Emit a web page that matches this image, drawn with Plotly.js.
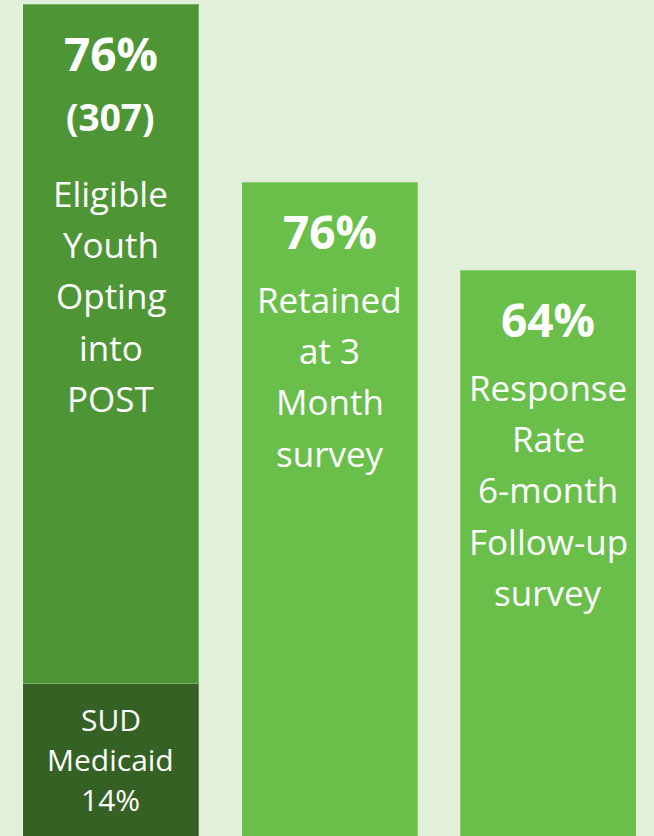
<!DOCTYPE html>
<html>
<head>
<meta charset="utf-8">
<script src="https://cdn.plot.ly/plotly-3.0.1.min.js"></script>
<style>
  html, body { margin: 0; padding: 0; background: #e2f0d9; }
  #chart { width: 654px; height: 836px; }
</style>
</head>
<body>
<div id="chart"></div>
<script>
// Bar heights are relative (tallest bar = 100)
const categories = ['Opting in', 'Retained 3 month', 'Response 6 month'];
const sudHeights = [18.3, null, null];
const mainHeights = [81.7, 78.6, 68.0];
const headlines = ['76%', '76%', '64%'];
const subHeadlines = ['(307)', '', ''];
const descriptions = [
    ['Eligible', 'Youth', 'Opting', 'into', 'POST'],
    ['Retained', 'at 3', 'Month', 'survey'],
    ['Response', 'Rate', '6-month', 'Follow-up', 'survey']
];
const sudLines = ['SUD', 'Medicaid', '14%'];

const barColors = ['#4e9535', '#6abf4b', '#6abf4b'];
const sudColor = '#356224';
const bgColor = '#e2f0d9';
const fontFamily = '"Open Sans", "Noto Sans", sans-serif';

const traces = [
    {
        x: categories,
        y: sudHeights,
        type: 'bar',
        marker: { color: sudColor, line: { color: 'rgba(255,255,255,0.25)', width: 1 } },
        hoverinfo: 'skip'
    },
    {
        x: categories,
        y: mainHeights,
        type: 'bar',
        marker: { color: barColors, line: { color: 'rgba(255,255,255,0.25)', width: 1 } },
        hoverinfo: 'skip'
    }
];

// text blocks hang from the top of each bar
const annotations = [];
const white = '#ffffff';
categories.forEach((cat, i) => {
    const top = (sudHeights[i] || 0) + mainHeights[i];
    annotations.push({
        x: cat, y: top, xref: 'x', yref: 'y',
        text: '<b>' + headlines[i] + '</b>',
        showarrow: false, yanchor: 'middle', yshift: -49,
        font: { family: fontFamily, size: 46, color: white }
    });
    let start = 117;
    if (subHeadlines[i]) {
        annotations.push({
            x: cat, y: top, xref: 'x', yref: 'y',
            text: '<b>' + subHeadlines[i] + '</b>',
            showarrow: false, yanchor: 'middle', yshift: -112,
            font: { family: fontFamily, size: 37, color: white }
        });
        start = 189;
    }
    descriptions[i].forEach((line, k) => {
        annotations.push({
            x: cat, y: top, xref: 'x', yref: 'y',
            text: line,
            showarrow: false, yanchor: 'middle', yshift: -(start + k * 51.3),
            font: { family: fontFamily, size: 35, color: white }
        });
    });
});

// labels inside the SUD Medicaid segment
sudLines.forEach((line, k) => {
    annotations.push({
        x: categories[0], y: sudHeights[0], xref: 'x', yref: 'y',
        text: line,
        showarrow: false, yanchor: 'middle', yshift: -(36 + k * 40),
        font: { family: fontFamily, size: 30, color: white }
    });
});

const layout = {
    width: 654,
    height: 836,
    margin: { l: 0, r: 0, t: 0, b: 0 },
    paper_bgcolor: bgColor,
    plot_bgcolor: bgColor,
    barmode: 'stack',
    bargap: 0.196,
    showlegend: false,
    xaxis: {
        range: [-0.5062, 2.4829],
        showticklabels: false,
        showgrid: false,
        zeroline: false,
        fixedrange: true
    },
    yaxis: {
        range: [0, 100.5],
        showticklabels: false,
        showgrid: false,
        zeroline: false,
        fixedrange: true
    },
    annotations: annotations
};

Plotly.newPlot('chart', traces, layout, { displayModeBar: false, staticPlot: true });
</script>
</body>
</html>
